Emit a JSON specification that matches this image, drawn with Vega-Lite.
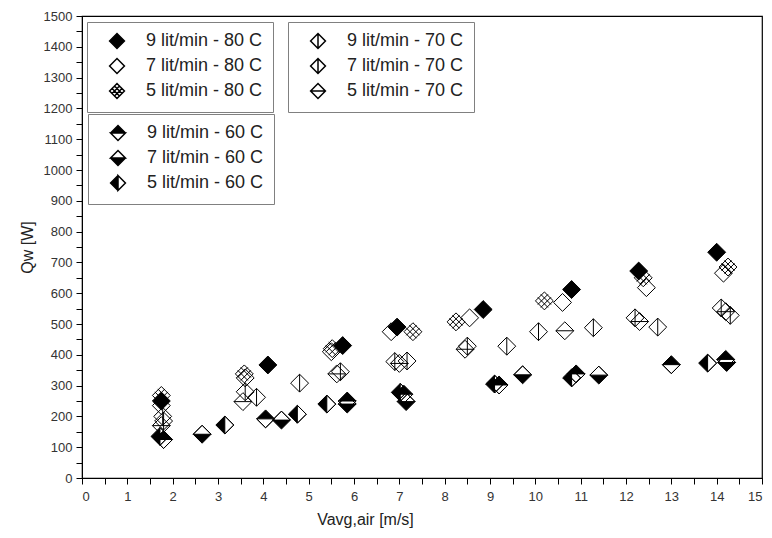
{
  "$schema": "https://vega.github.io/schema/vega-lite/v6.json",
  "width": 680,
  "height": 462,
  "autosize": {"type": "none"},
  "padding": {"left": 82, "top": 16, "right": 10, "bottom": 60},
  "config": {
    "font": "Liberation Sans",
    "view": {"stroke": "black", "strokeWidth": 1.2},
    "axis": {"grid": false, "domainColor": "black", "tickColor": "black", "labelColor": "#333", "labelFont": "Liberation Sans", "labelFontSize": 13, "titleFont": "Liberation Sans", "titleFontWeight": "normal", "titleFontSize": 16, "titleColor": "#222"},
    "legend": {"labelFont": "Liberation Sans", "labelFontSize": 18, "labelColor": "#222", "padding": 10, "rowPadding": 3, "symbolOffset": 11, "labelOffset": 20, "strokeColor": "#808080", "fillColor": "white", "symbolSize": 220, "labelLimit": 300, "title": null,
      "encode": {"symbols": {"update": {"stroke": {"value": "black"}, "strokeWidth": {"value": 1}, "opacity": {"value": 1}}}}}
  },
  "data": {"values": [
    {"series": "9 lit/min - 80 C", "temp": 80, "v": 1.75, "q": 250},
    {"series": "9 lit/min - 80 C", "temp": 80, "v": 4.1, "q": 367},
    {"series": "9 lit/min - 80 C", "temp": 80, "v": 5.75, "q": 430},
    {"series": "9 lit/min - 80 C", "temp": 80, "v": 6.95, "q": 490},
    {"series": "9 lit/min - 80 C", "temp": 80, "v": 8.85, "q": 547},
    {"series": "9 lit/min - 80 C", "temp": 80, "v": 10.8, "q": 612},
    {"series": "9 lit/min - 80 C", "temp": 80, "v": 12.28, "q": 672},
    {"series": "9 lit/min - 80 C", "temp": 80, "v": 14.0, "q": 733},
    {"series": "7 lit/min - 80 C", "temp": 80, "v": 1.75, "q": 235},
    {"series": "7 lit/min - 80 C", "temp": 80, "v": 3.6, "q": 325},
    {"series": "7 lit/min - 80 C", "temp": 80, "v": 5.5, "q": 410},
    {"series": "7 lit/min - 80 C", "temp": 80, "v": 6.82, "q": 475},
    {"series": "7 lit/min - 80 C", "temp": 80, "v": 8.55, "q": 520},
    {"series": "7 lit/min - 80 C", "temp": 80, "v": 10.6, "q": 570},
    {"series": "7 lit/min - 80 C", "temp": 80, "v": 12.45, "q": 618},
    {"series": "7 lit/min - 80 C", "temp": 80, "v": 14.15, "q": 665},
    {"series": "5 lit/min - 80 C", "temp": 80, "v": 1.75, "q": 268},
    {"series": "5 lit/min - 80 C", "temp": 80, "v": 3.58, "q": 338},
    {"series": "5 lit/min - 80 C", "temp": 80, "v": 5.52, "q": 420},
    {"series": "5 lit/min - 80 C", "temp": 80, "v": 7.3, "q": 475},
    {"series": "5 lit/min - 80 C", "temp": 80, "v": 8.25, "q": 507},
    {"series": "5 lit/min - 80 C", "temp": 80, "v": 10.2, "q": 575},
    {"series": "5 lit/min - 80 C", "temp": 80, "v": 12.38, "q": 650},
    {"series": "5 lit/min - 80 C", "temp": 80, "v": 14.25, "q": 685},
    {"series": "9 lit/min - 70 C", "temp": 70, "v": 1.8, "q": 185},
    {"series": "9 lit/min - 70 C", "temp": 70, "v": 3.85, "q": 262},
    {"series": "9 lit/min - 70 C", "temp": 70, "v": 4.8, "q": 308},
    {"series": "9 lit/min - 70 C", "temp": 70, "v": 6.9, "q": 378},
    {"series": "9 lit/min - 70 C", "temp": 70, "v": 8.5, "q": 428},
    {"series": "9 lit/min - 70 C", "temp": 70, "v": 10.07, "q": 475},
    {"series": "9 lit/min - 70 C", "temp": 70, "v": 12.2, "q": 520},
    {"series": "9 lit/min - 70 C", "temp": 70, "v": 14.1, "q": 552},
    {"series": "7 lit/min - 70 C", "temp": 70, "v": 1.78, "q": 200},
    {"series": "7 lit/min - 70 C", "temp": 70, "v": 3.6, "q": 280},
    {"series": "7 lit/min - 70 C", "temp": 70, "v": 5.7, "q": 345},
    {"series": "7 lit/min - 70 C", "temp": 70, "v": 7.17, "q": 380},
    {"series": "7 lit/min - 70 C", "temp": 70, "v": 9.37, "q": 428},
    {"series": "7 lit/min - 70 C", "temp": 70, "v": 11.28, "q": 488},
    {"series": "7 lit/min - 70 C", "temp": 70, "v": 12.7, "q": 490},
    {"series": "7 lit/min - 70 C", "temp": 70, "v": 14.3, "q": 528},
    {"series": "5 lit/min - 70 C", "temp": 70, "v": 1.75, "q": 170},
    {"series": "5 lit/min - 70 C", "temp": 70, "v": 3.55, "q": 248},
    {"series": "5 lit/min - 70 C", "temp": 70, "v": 5.62, "q": 338},
    {"series": "5 lit/min - 70 C", "temp": 70, "v": 7.0, "q": 372},
    {"series": "5 lit/min - 70 C", "temp": 70, "v": 8.45, "q": 418},
    {"series": "5 lit/min - 70 C", "temp": 70, "v": 10.65, "q": 478},
    {"series": "5 lit/min - 70 C", "temp": 70, "v": 12.3, "q": 508},
    {"series": "5 lit/min - 70 C", "temp": 70, "v": 14.2, "q": 540},
    {"series": "9 lit/min - 60 C", "temp": 60, "v": 1.8, "q": 125},
    {"series": "9 lit/min - 60 C", "temp": 60, "v": 4.05, "q": 192},
    {"series": "9 lit/min - 60 C", "temp": 60, "v": 5.85, "q": 250},
    {"series": "9 lit/min - 60 C", "temp": 60, "v": 7.1, "q": 272},
    {"series": "9 lit/min - 60 C", "temp": 60, "v": 9.2, "q": 302},
    {"series": "9 lit/min - 60 C", "temp": 60, "v": 10.9, "q": 338},
    {"series": "9 lit/min - 60 C", "temp": 60, "v": 13.0, "q": 368},
    {"series": "9 lit/min - 60 C", "temp": 60, "v": 14.2, "q": 385},
    {"series": "7 lit/min - 60 C", "temp": 60, "v": 2.65, "q": 142},
    {"series": "7 lit/min - 60 C", "temp": 60, "v": 4.4, "q": 188},
    {"series": "7 lit/min - 60 C", "temp": 60, "v": 5.85, "q": 240},
    {"series": "7 lit/min - 60 C", "temp": 60, "v": 7.15, "q": 248},
    {"series": "7 lit/min - 60 C", "temp": 60, "v": 9.72, "q": 335},
    {"series": "7 lit/min - 60 C", "temp": 60, "v": 11.4, "q": 334},
    {"series": "7 lit/min - 60 C", "temp": 60, "v": 14.22, "q": 375},
    {"series": "5 lit/min - 60 C", "temp": 60, "v": 1.72, "q": 135},
    {"series": "5 lit/min - 60 C", "temp": 60, "v": 3.15, "q": 172},
    {"series": "5 lit/min - 60 C", "temp": 60, "v": 4.75, "q": 207},
    {"series": "5 lit/min - 60 C", "temp": 60, "v": 5.4, "q": 240},
    {"series": "5 lit/min - 60 C", "temp": 60, "v": 7.02, "q": 278},
    {"series": "5 lit/min - 60 C", "temp": 60, "v": 9.1, "q": 305},
    {"series": "5 lit/min - 60 C", "temp": 60, "v": 10.8, "q": 325},
    {"series": "5 lit/min - 60 C", "temp": 60, "v": 13.8, "q": 373}
  ]},
  "encoding": {
    "x": {"field": "v", "type": "quantitative", "scale": {"domain": [0, 15], "nice": false, "zero": false},
      "axis": {"title": "Vavg,air [m/s]", "titleX": 283, "titlePadding": 8,
        "values": [0,0.5,1,1.5,2,2.5,3,3.5,4,4.5,5,5.5,6,6.5,7,7.5,8,8.5,9,9.5,10,10.5,11,11.5,12,12.5,13,13.5,14,14.5,15],
        "labelExpr": "datum.value % 1 === 0 ? '' + datum.value : ''", "tickSize": 6, "labelPadding": 6,
        "encode": {"ticks": {"update": {"y2": {"signal": "datum.value % 1 === 0 ? 6 : 3"}}}}}},
    "y": {"field": "q", "type": "quantitative", "scale": {"domain": [0, 1500], "nice": false},
      "axis": {"title": "Qw [W]", "titlePadding": 8,
        "values": [0,50,100,150,200,250,300,350,400,450,500,550,600,650,700,750,800,850,900,950,1000,1050,1100,1150,1200,1250,1300,1350,1400,1450,1500],
        "labelExpr": "datum.value % 100 === 0 ? '' + datum.value : ''", "tickSize": 6, "labelPadding": 4,
        "encode": {"ticks": {"update": {"x2": {"signal": "datum.value % 100 === 0 ? -6 : -3"}}}}}}
  },
  "layer": [
    {
      "transform": [{"filter": "datum.temp === 60"}],
      "mark": {"type": "point", "filled": true, "stroke": "black", "strokeWidth": 1, "opacity": 1, "size": 320},
      "encoding": {
        "shape": {"field": "series", "type": "nominal",
          "scale": {"domain": ["9 lit/min - 60 C", "7 lit/min - 60 C", "5 lit/min - 60 C"],
            "range": ["M-1,0L0,-1L1,0L0,1Z M-1,0L0,1L1,0Z", "M-1,0L0,-1L1,0L0,1Z M1,0L0,-1L-1,0Z", "M-1,0L0,-1L1,0L0,1Z M0,-1L0,1L1,0Z"]},
          "legend": {"orient": "none", "legendX": 6, "legendY": 98}},
        "fill": {"field": "series", "type": "nominal",
          "scale": {"domain": ["9 lit/min - 60 C", "7 lit/min - 60 C", "5 lit/min - 60 C"], "range": ["black", "black", "black"]},
          "legend": {"orient": "none", "legendX": 6, "legendY": 98}}
      }
    },
    {
      "transform": [{"filter": "datum.temp === 70"}],
      "mark": {"type": "point", "filled": true, "stroke": "black", "strokeWidth": 1, "opacity": 1, "size": 320},
      "encoding": {
        "shape": {"field": "series", "type": "nominal",
          "scale": {"domain": ["9 lit/min - 70 C", "7 lit/min - 70 C", "5 lit/min - 70 C"],
            "range": ["M-1,0L0,-1L1,0L0,1Z M0,-1L0,1", "M-1,0L0,-1L1,0L0,1Z M0,-1L0,1", "M-1,0L0,-1L1,0L0,1Z M-1,0L1,0"]},
          "legend": {"orient": "none", "legendX": 206, "legendY": 6}},
        "fill": {"field": "series", "type": "nominal",
          "scale": {"domain": ["9 lit/min - 70 C", "7 lit/min - 70 C", "5 lit/min - 70 C"], "range": ["transparent", "transparent", "transparent"]},
          "legend": {"orient": "none", "legendX": 206, "legendY": 6}}
      }
    },
    {
      "transform": [{"filter": "datum.temp === 80"}],
      "mark": {"type": "point", "filled": true, "stroke": "black", "strokeWidth": 1, "opacity": 1, "size": 320},
      "encoding": {
        "shape": {"field": "series", "type": "nominal",
          "scale": {"domain": ["9 lit/min - 80 C", "7 lit/min - 80 C", "5 lit/min - 80 C"],
            "range": ["M-1,0L0,-1L1,0L0,1Z", "M-1,0L0,-1L1,0L0,1Z", "M-1,0L0,-1L1,0L0,1Z M-0.4,0.73L0.73,-0.4 M-0.73,0.4L0.4,-0.73 M-0.4,-0.73L0.73,0.4 M-0.73,-0.4L0.4,0.73"]},
          "legend": {"orient": "none", "legendX": 5, "legendY": 6}},
        "fill": {"field": "series", "type": "nominal",
          "scale": {"domain": ["9 lit/min - 80 C", "7 lit/min - 80 C", "5 lit/min - 80 C"], "range": ["black", "transparent", "transparent"]},
          "legend": {"orient": "none", "legendX": 5, "legendY": 6}}
      }
    }
  ],
  "resolve": {"scale": {"shape": "independent", "fill": "independent"}}
}
